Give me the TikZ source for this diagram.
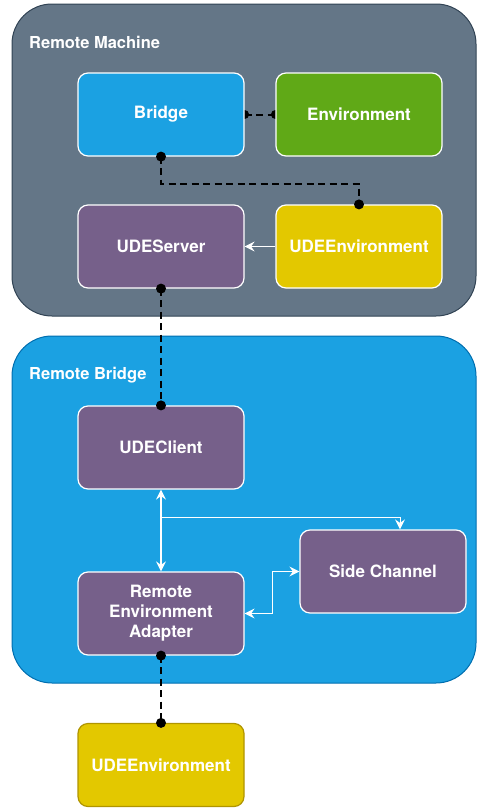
\documentclass[tikz,border=0pt]{standalone}
\usepackage{fontspec}
\setmainfont{TeX Gyre Heros}
\usetikzlibrary{arrows.meta}
\pgfdeclarelayer{back}
\pgfdeclarelayer{mid}
\pgfsetlayers{back,mid,main}
\definecolor{rmgray}{HTML}{647687}
\definecolor{rmgraystroke}{HTML}{314354}
\definecolor{rbblue}{HTML}{1BA1E2}
\definecolor{rbbluestroke}{HTML}{006EAF}
\definecolor{envgreen}{HTML}{60A917}
\definecolor{udeyellow}{HTML}{E3C800}
\definecolor{udeyellowstroke}{HTML}{B09500}
\definecolor{udepurple}{HTML}{76608A}
\tikzset{
  box/.style={draw=white, line width=1.2pt, rounded corners=10pt,
    minimum width=166pt, minimum height=83pt, text=white,
    font=\fontsize{17}{20}\selectfont\bfseries, align=center, inner sep=0pt},
  container/.style={line width=1pt, rounded corners=40pt, inner sep=0pt},
  lbl/.style={anchor=west, text=white, font=\fontsize{16.5}{19}\selectfont\bfseries, inner sep=0pt},
  dashline/.style={draw=black, line width=2pt, dash pattern=on 7pt off 4.5pt},
  tipw/.tip={Stealth[length=10pt,width=10pt,inset=3.5pt]},
  warrow/.style={draw=white, line width=1.5pt, -tipw},
  wthin/.style={draw=white, line width=1pt},
}
\begin{document}
\begin{tikzpicture}[x=1pt,y=-1pt]
\useasboundingbox (0,0) rectangle (477,809);
\begin{pgfonlayer}{back}
\node[container, fill=rmgray, draw=rmgraystroke, minimum width=464pt, minimum height=312pt] (rm) at (244,160) {};
\node[container, fill=rbblue, draw=rbbluestroke, minimum width=464pt, minimum height=347pt] (rb) at (244,509.5) {};
\end{pgfonlayer}
\node[lbl] (rmlabel) at (29,42) {Remote Machine};
\node[lbl] (rblabel) at (29,375) {Remote Bridge};

\node[box, fill=rbblue] (bridge) at (161,114.5) {Bridge};
\node[box, fill=envgreen] (env) at (359,114.5) {Environment};
\node[box, fill=udepurple] (server) at (161,246.5) {UDEServer};
\node[box, fill=udeyellow] (udeenv) at (359,246.5) {UDEEnvironment};
\node[box, fill=udepurple] (client) at (161,447.5) {UDEClient};
\node[box, fill=udepurple] (side) at (383,571.5) {Side Channel};
\node[box, fill=udepurple] (adapter) at (161,613.5) {Remote\\Environment\\Adapter};
\node[box, fill=udeyellow, draw=udeyellowstroke] (udeenv2) at (161,765) {UDEEnvironment};

\begin{pgfonlayer}{mid}
\draw[dashline] (bridge.east) -- (env.west);
\fill (bridge.east) circle (4.5pt);
\fill (env.west) circle (4.5pt);
\end{pgfonlayer}

\draw[dashline] (bridge.south) -- ++(0,27) -| (udeenv.north);
\fill (bridge.south) circle (5pt);
\fill (udeenv.north) circle (5pt);

\draw[dashline] (server.south) -- (client.north);
\fill (server.south) circle (5pt);
\fill (client.north) circle (5pt);

\draw[dashline] (adapter.south) -- (udeenv2.north);
\fill (adapter.south) circle (5pt);
\fill (udeenv2.north) circle (5pt);

\draw[warrow] (udeenv.west) -- (server.east);
\draw[warrow, tipw-tipw] (client.south) -- (adapter.north);
\coordinate (split) at (161,517);
\draw[wthin, -tipw] (split) -| ([xshift=17pt]side.north);
\draw[wthin, tipw-tipw] (adapter.east) -- ++(28,0) |- (side.west);
\end{tikzpicture}
\end{document}
